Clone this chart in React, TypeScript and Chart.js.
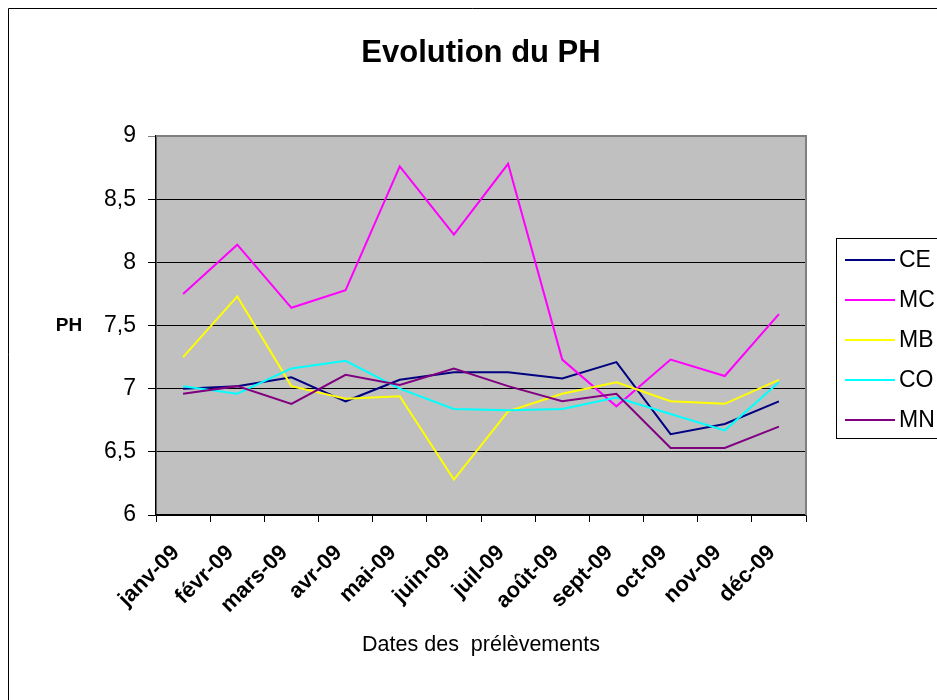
import React, { useEffect, useRef } from "react";
import { Chart, registerables } from "chart.js";

Chart.register(...registerables);

const months = ["janv-09", "févr-09", "mars-09", "avr-09", "mai-09", "juin-09", "juil-09", "août-09", "sept-09", "oct-09", "nov-09", "déc-09"];
const seriesNames = ["CE", "MC", "MB", "CO", "MN"];
const seriesColors = ["#000080", "#FF00FF", "#FFFF00", "#00FFFF", "#800080"];
const ce = [7.0, 7.02, 7.09, 6.9, 7.07, 7.13, 7.13, 7.08, 7.21, 6.64, 6.72, 6.9];
const mc = [7.75, 8.14, 7.64, 7.78, 8.76, 8.22, 8.78, 7.23, 6.86, 7.23, 7.1, 7.59];
const mb = [7.25, 7.73, 7.02, 6.92, 6.94, 6.28, 6.82, 6.96, 7.05, 6.9, 6.88, 7.07];
const co = [7.02, 6.96, 7.16, 7.22, 7.0, 6.84, 6.83, 6.84, 6.93, 6.8, 6.67, 7.05];
const mn = [6.96, 7.02, 6.88, 7.11, 7.03, 7.16, 7.02, 6.9, 6.96, 6.53, 6.53, 6.7];
const seriesValues = [ce, mc, mb, co, mn];
const yTicks = [6, 6.5, 7, 7.5, 8, 8.5, 9];
const yTickLabels = ["6", "6,5", "7", "7,5", "8", "8,5", "9"];

const chartTitle = "Evolution du PH";
const yTitle = "PH";
const xTitle = "Dates des  prélèvements";

const FONT = "'Liberation Sans', Arial, sans-serif";

const decorPlugin = {
  id: "decor",
  beforeDraw(chart: any) {
    const { ctx, chartArea } = chart;
    ctx.save();
    ctx.fillStyle = "#ffffff";
    ctx.fillRect(0, 0, chart.width, chart.height);
    ctx.strokeStyle = "#000000";
    ctx.lineWidth = 1;
    ctx.beginPath();
    ctx.moveTo(8.5, chart.height);
    ctx.lineTo(8.5, 8.5);
    ctx.lineTo(chart.width, 8.5);
    ctx.stroke();
    ctx.fillStyle = "#C0C0C0";
    ctx.fillRect(chartArea.left, chartArea.top, chartArea.right - chartArea.left, chartArea.bottom - chartArea.top);
    ctx.restore();
  },
  afterDraw(chart: any) {
    const { ctx, chartArea } = chart;
    ctx.save();
    ctx.strokeStyle = "#808080";
    ctx.lineWidth = 2;
    ctx.beginPath();
    ctx.moveTo(chartArea.left, chartArea.top);
    ctx.lineTo(chartArea.right, chartArea.top);
    ctx.lineTo(chartArea.right, chartArea.bottom);
    ctx.stroke();

    ctx.fillStyle = "#000000";
    ctx.textAlign = "center";
    ctx.textBaseline = "middle";
    ctx.font = `bold 31px ${FONT}`;
    ctx.fillText(chartTitle, (chartArea.left + chartArea.right) / 2, 53);
    ctx.font = `bold 19px ${FONT}`;
    ctx.fillText(yTitle, 69, (chartArea.top + chartArea.bottom) / 2);
    ctx.font = `21.5px ${FONT}`;
    ctx.fillText(xTitle, (chartArea.left + chartArea.right) / 2, 645);

    const lx = 836.5, ly = 238.5;
    ctx.strokeStyle = "#000000";
    ctx.lineWidth = 1;
    ctx.strokeRect(lx, ly, 140, 200);
    ctx.textAlign = "left";
    ctx.font = `23px ${FONT}`;
    chart.data.datasets.forEach((ds: any, i: number) => {
      const y = 260 + i * 40;
      ctx.strokeStyle = ds.borderColor;
      ctx.lineWidth = 2;
      ctx.beginPath();
      ctx.moveTo(845, y);
      ctx.lineTo(895, y);
      ctx.stroke();
      ctx.fillStyle = "#000000";
      ctx.fillText(ds.label, 899, y + 1);
    });
    ctx.restore();
  },
};

export default function App() {
  const ref = useRef<HTMLCanvasElement | null>(null);
  useEffect(() => {
    if (!ref.current) return;
    const chart = new Chart(ref.current, {
      type: "line",
      data: {
        labels: months,
        datasets: seriesNames.map((name, i) => ({
          label: name,
          data: seriesValues[i],
          borderColor: seriesColors[i],
          backgroundColor: seriesColors[i],
          borderWidth: 2,
          pointRadius: 0,
          tension: 0,
          fill: false,
          order: seriesNames.length - i,
        })),
      },
      options: {
        responsive: false,
        animation: false,
        layout: { padding: { top: 136, right: 131, left: 0, bottom: 0 } },
        plugins: {
          legend: { display: false },
          title: { display: false },
          tooltip: { enabled: false },
        },
        scales: {
          x: {
            type: "category",
            offset: true,
            grid: {
              offset: true,
              drawOnChartArea: false,
              drawTicks: true,
              tickLength: 7,
              color: "#000000",
            },
            border: { color: "#000000", width: 1.5 },
            ticks: {
              autoSkip: false,
              minRotation: 45,
              maxRotation: 45,
              padding: 18,
              labelOffset: -7,
              color: "#000000",
              font: { family: FONT, size: 22, weight: "bold" },
            },
            afterFit: (scale: any) => {
              scale.height = 185;
            },
          },
          y: {
            min: 6,
            max: 9,
            afterBuildTicks: (scale: any) => {
              scale.ticks = yTicks.map((v) => ({ value: v }));
            },
            grid: {
              color: (c: any) => (c.tick && c.tick.value === 9 ? "#808080" : "#000000"),
              lineWidth: 1,
              tickLength: 8,
            },
            border: { color: "#000000", width: 1.5 },
            ticks: {
              padding: 12,
              color: "#000000",
              font: { family: FONT, size: 23 },
              callback: (v: any) => {
                const idx = yTicks.indexOf(Number(v));
                return idx >= 0 ? yTickLabels[idx] : "";
              },
            },
            afterFit: (scale: any) => {
              scale.width = 156;
            },
          },
        },
      },
      plugins: [decorPlugin],
    });
    return () => chart.destroy();
  }, []);
  return (
    <div style={{ position: "absolute", left: 0, top: 0, width: 937, height: 700, overflow: "hidden" }}>
      <canvas ref={ref} width={937} height={700} style={{ display: "block", width: 937, height: 700 }} />
    </div>
  );
}
